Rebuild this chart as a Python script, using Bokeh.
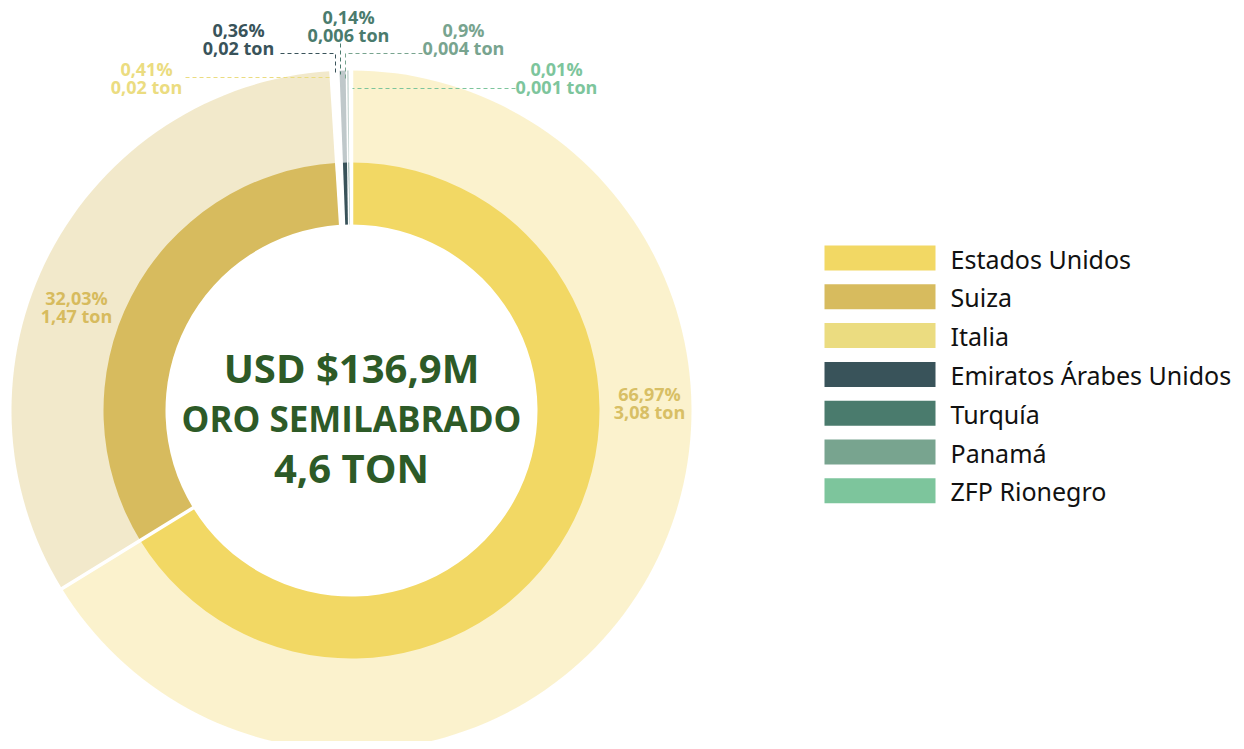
import math
from bokeh.plotting import figure
from bokeh.models import Range1d, ColumnDataSource
from bokeh.core.properties import value
from bokeh.embed import file_html
from bokeh.resources import INLINE

# ---------------- data ----------------
countries = ["Estados Unidos", "Suiza", "Italia", "Emiratos Árabes Unidos",
             "Turquía", "Panamá", "ZFP Rionegro"]
# slice shares as drawn in the reference ring (%)
slice_share = [66.3, 32.8, 0.41, 0.36, 0.14, 0.09, 0.01]
tons = [3.08, 1.47, 0.02, 0.02, 0.006, 0.004, 0.001]
pct_labels = ["66,97%", "32,03%", "0,41%", "0,36%", "0,14%", "0,9%", "0,01%"]
ton_labels = ["3,08 ton", "1,47 ton", "0,02 ton", "0,02 ton", "0,006 ton", "0,004 ton", "0,001 ton"]
colors = ["#F2D864", "#D7BB5E", "#EBDC80", "#39535A", "#4A7B6D", "#78A48F", "#7DC59C"]
ring_colors = ["#F2D864", "#D7BB5E", "#FFFFFF", "#39535A", "#4A7B6D", "#78A48F", "#7DC59C"]
label_colors = ["#D8BF65", "#D7BB5E", "#EBDC80", "#39535A", "#4A7B6D", "#78A48F", "#7DC59C"]
center_lines = ["USD $136,9M", "ORO SEMILABRADO", "4,6 TON"]

# ---------------- layout ----------------
W, H = 1236, 741
def Y(y):  # page pixel (down) -> data (up)
    return 749 - y

CX, CY = 351, Y(410)
R_HOLE, R_MID, R_OUT = 186, 248, 340

p = figure(width=W, height=H, x_range=Range1d(0, W), y_range=Range1d(8, 749),
           output_backend="svg", toolbar_location=None, x_axis_type=None, y_axis_type=None,
           min_border=0, outline_line_color=None, background_fill_color="white",
           border_fill_color="white")
p.grid.visible = False

total = sum(slice_share)
cum = [0.0]
for v in slice_share:
    cum.append(cum[-1] + v / total)
starts = [math.pi / 2 - 2 * math.pi * c for c in cum[:-1]]
ends = [math.pi / 2 - 2 * math.pi * c for c in cum[1:]]

src = ColumnDataSource(dict(start=starts, end=ends, color=ring_colors, country=countries,
                            share=slice_share, tons=tons))

# outer faded ring (drawn from hole to outer radius, inner ring covers the inside)
p.annular_wedge(x=CX, y=CY, inner_radius=R_HOLE + 2, outer_radius=R_OUT,
                start_angle="start", end_angle="end", direction="clock",
                fill_color="color", fill_alpha=0.32, line_color=None, source=src)
# inner solid ring
p.annular_wedge(x=CX, y=CY, inner_radius=R_HOLE, outer_radius=R_MID,
                start_angle="start", end_angle="end", direction="clock",
                fill_color="color", fill_alpha=1.0, line_color=None, source=src)

# white separators at slice boundaries
bx0, by0, bx1, by1 = [], [], [], []
for a in starts:
    bx0.append(CX + (R_HOLE - 3) * math.cos(a)); by0.append(CY + (R_HOLE - 3) * math.sin(a))
    bx1.append(CX + (R_OUT + 3) * math.cos(a)); by1.append(CY + (R_OUT + 3) * math.sin(a))
p.segment(x0=bx0, y0=by0, x1=bx1, y1=by1, line_color="white",
          line_width=[3.5, 3.5, 1.5, 1.5, 1.5, 1.5, 1.5])

# leader lines for small slices (page pixel coordinates)
leaders = [
    ([185, 331], [77, 77]),
    ([280, 335, 335], [53, 53, 74]),
    ([340, 340], [43, 74]),
    ([422, 345, 345], [53, 53, 80]),
    ([515, 352], [88, 88]),
]
p.multi_line(xs=[l[0] for l in leaders], ys=[[Y(v) for v in l[1]] for l in leaders],
             line_color=label_colors[2:], line_dash="4 3", line_width=1)

# slice labels
label_pos = [(649, 393), (76, 297), (146, 68), (238, 29), (348, 16), (463, 29), (556, 68)]
lx = [q[0] for q in label_pos]
p.text(x=lx, y=[Y(q[1]) for q in label_pos], text=pct_labels, text_color=label_colors,
       text_align="center", text_baseline="middle", text_font=value("Open Sans"),
       text_font_size="18px", text_font_style="bold")
p.text(x=lx, y=[Y(q[1] + 18) for q in label_pos], text=ton_labels, text_color=label_colors,
       text_align="center", text_baseline="middle", text_font=value("Open Sans"),
       text_font_size="18px", text_font_style="bold")

# center title
p.text(x=[CX] * 3, y=[Y(367), Y(418), Y(467)], text=center_lines,
       text_color="#2D5A27", text_align="center", text_baseline="middle",
       text_font=value("Open Sans"), text_font_style="bold",
       text_font_size=["40px", "35px", "40px"])

# legend
rows = list(range(len(countries)))
top0, step = 245, 38.8
p.quad(left=824, right=935, top=[Y(top0 + i * step) for i in rows],
       bottom=[Y(top0 + i * step + 25) for i in rows], fill_color=colors, line_color=None)
p.text(x=950, y=[Y(top0 + i * step + 13) for i in rows], text=countries,
       text_color="#111111", text_align="left", text_baseline="middle",
       text_font=value("Noto Sans"), text_font_size="25px")

open("out.html", "w").write(file_html(p, INLINE))
